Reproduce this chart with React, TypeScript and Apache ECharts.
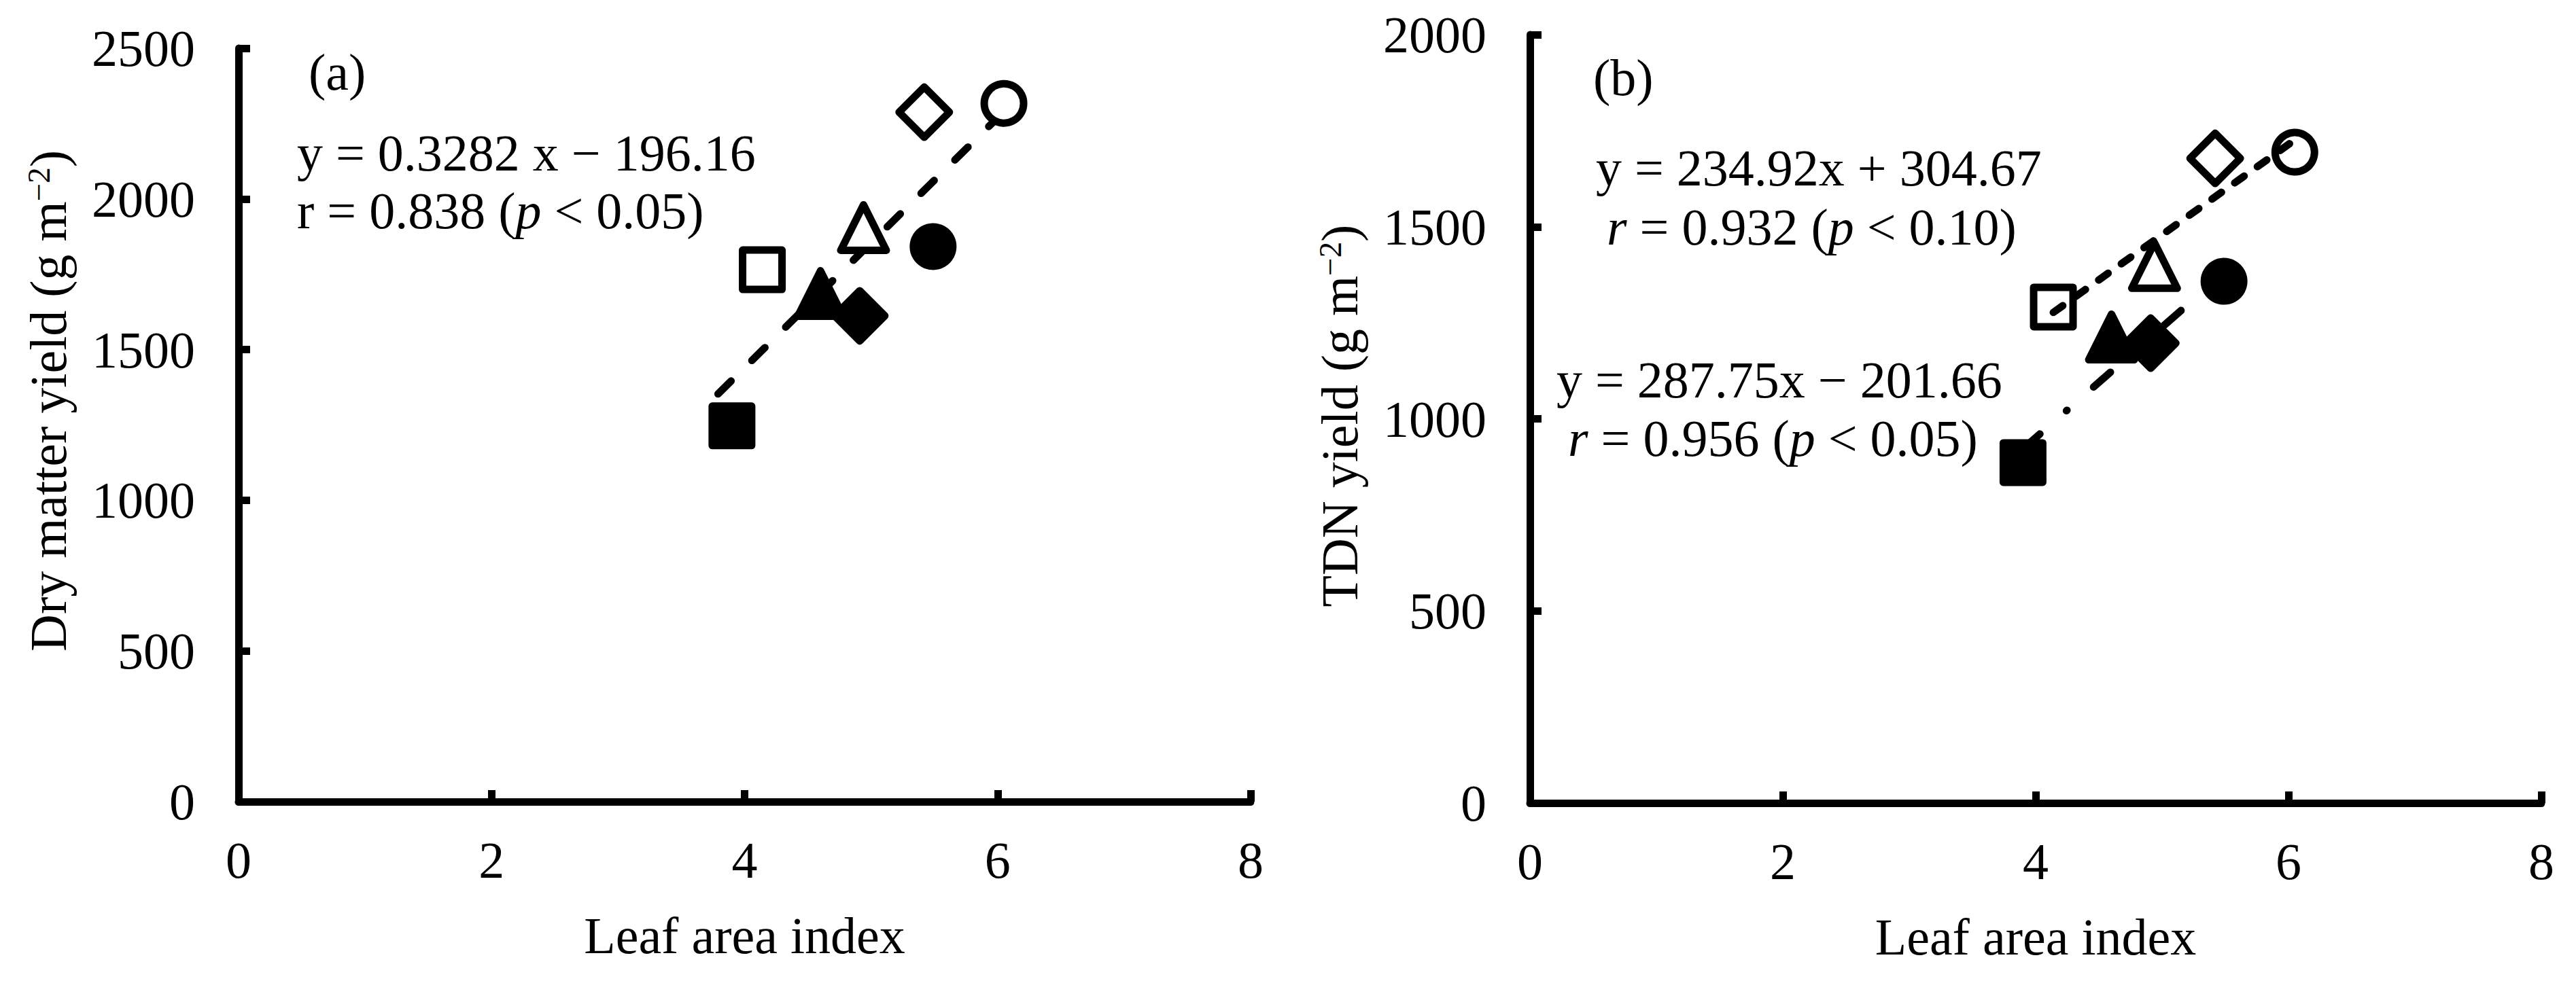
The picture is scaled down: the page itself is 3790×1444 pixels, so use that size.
import React, { useEffect, useRef } from 'react';
import * as echarts from 'echarts';

// ---- data ----
// Leaf area index of the eight treatments (same in both panels)
const LAI = [3.9, 4.14, 4.6, 4.94, 4.91, 5.42, 5.49, 6.05];
const markerShapes = ['rect', 'rect', 'triangle', 'triangle', 'diamond', 'diamond', 'circle', 'circle'];
const markerFilled = [true, false, true, false, true, false, true, false];
// Panel (a): dry matter yield (g m-2)
const dryMatterYield = [1247, 1765, 1686, 1905, 1612, 2288, 1842, 2317];
// Panel (b): TDN yield (g m-2)
const tdnYield = [886, 1291, 1213, 1399, 1197, 1678, 1358, 1694];
// Trend lines (end points)
const dmTrend = [[3.79, 1353], [6.05, 2290]];
const tdnOpenTrend = [[4.14, 1277], [6.05, 1726]];
const tdnFilledTrend = [[3.9, 922], [5.49, 1380]];
// Axis ranges
const xRange = [0, 8, 2];
const dmRange = [0, 2500, 500];
const tdnRange = [0, 2000, 500];

const X_TITLE = 'Leaf area index';
const Y_TITLE_A = ['Dry matter yield (g m', '−2', ')'];
const Y_TITLE_B = ['TDN yield (g m', '−2', ')'];
const LABEL_A = '(a)';
const LABEL_B = '(b)';
const EQ_A1 = 'y = 0.3282 x − 196.16';
const EQ_A2 = ['r = 0.838 (', 'p', ' < 0.05)'];
const EQ_B1 = 'y = 234.92x + 304.67';
const EQ_B2 = ['r', ' = 0.932 (', 'p', ' < 0.10)'];
const EQ_B3 = 'y = 287.75x − 201.66';
const EQ_B4 = ['r', ' = 0.956 (', 'p', ' < 0.05)'];

const FONT = '"Liberation Serif", "Times New Roman", serif';
const FS = 76;
const LW = 11;

const symbolSizeOf: Record<string, number> = { rect: 58, circle: 58, diamond: 74, triangle: 67 };

function makeXAxis(gridIndex: number) {
  return {
    type: 'value',
    gridIndex,
    min: xRange[0],
    max: xRange[1],
    interval: xRange[2],
    name: X_TITLE,
    nameLocation: 'middle',
    nameGap: 159,
    nameTextStyle: { fontSize: FS, fontFamily: FONT, color: '#000' },
    axisLine: { show: true, onZero: false, lineStyle: { color: '#000', width: LW } },
    axisTick: { show: true, inside: true, length: 17, lineStyle: { color: '#000', width: LW } },
    axisLabel: {
      margin: 48,
      fontSize: FS,
      fontFamily: FONT,
      color: '#000',
      showMinLabel: true,
      showMaxLabel: true,
      formatter: (v: number) => String(v),
    },
    splitLine: { show: false },
  };
}

function makeYAxis(gridIndex: number, range: number[]) {
  return {
    type: 'value',
    gridIndex,
    min: range[0],
    max: range[1],
    interval: range[2],
    axisLine: { show: true, onZero: false, lineStyle: { color: '#000', width: LW } },
    axisTick: { show: true, inside: true, length: 17, lineStyle: { color: '#000', width: LW } },
    axisLabel: {
      margin: 64,
      fontSize: FS,
      fontFamily: FONT,
      color: '#000',
      showMinLabel: true,
      showMaxLabel: true,
      formatter: (v: number) => String(v),
    },
    splitLine: { show: false },
  };
}

function scatterData(values: number[]) {
  return LAI.map((x, i) => {
    const shape = markerShapes[i];
    return {
      value: [x, values[i]],
      symbol: shape,
      symbolSize: symbolSizeOf[shape],
      itemStyle: {
        color: markerFilled[i] ? '#000' : '#fff',
        borderColor: '#000',
        borderWidth: LW,
        borderJoin: 'round',
        opacity: 1,
      },
    };
  });
}

function trendSeries(data: number[][], idx: number, dash: number[], z: number) {
  return {
    type: 'line',
    xAxisIndex: idx,
    yAxisIndex: idx,
    data,
    symbol: 'none',
    showSymbol: false,
    silent: true,
    z,
    lineStyle: { color: '#000', width: LW, type: dash, cap: 'round', opacity: 1 },
  };
}

const normal = { fontSize: FS, fontFamily: FONT, fill: '#000' };
const italic = { fontSize: FS, fontFamily: FONT, fontStyle: 'italic', fill: '#000' };
const sup = { fontSize: 47, fontFamily: FONT, fill: '#000', verticalAlign: 'top' };

function plainText(text: string, x: number, y: number) {
  return {
    type: 'text',
    x,
    y,
    silent: true,
    style: { text, ...normal, align: 'left', verticalAlign: 'middle' },
  };
}

function richText(parts: string[], italicIdx: number[], x: number, y: number) {
  const text = parts.map((p, i) => `{${italicIdx.includes(i) ? 'i' : 'n'}|${p}}`).join('');
  return {
    type: 'text',
    x,
    y,
    silent: true,
    style: { text, ...normal, align: 'left', verticalAlign: 'middle', rich: { n: normal, i: italic } },
  };
}

function yTitle(parts: string[], x: number, y: number) {
  return {
    type: 'text',
    x,
    y,
    rotation: Math.PI / 2,
    silent: true,
    style: {
      text: `{a|${parts[0]}}{s|${parts[1]}}{a|${parts[2]}}`,
      ...normal,
      align: 'center',
      verticalAlign: 'middle',
      rich: { a: normal, s: sup },
    },
  };
}

export default function App() {
  const ref = useRef<HTMLDivElement>(null);
  useEffect(() => {
    if (!ref.current) return;
    const chart = echarts.init(ref.current, null, { renderer: 'svg' });
    const option: any = {
      animation: false,
      backgroundColor: '#fff',
      textStyle: { fontFamily: FONT },
      grid: [
        { left: 351, top: 71, width: 1489, height: 1109, containLabel: false, outerBoundsMode: 'none' },
        { left: 2251, top: 51, width: 1488, height: 1131, containLabel: false, outerBoundsMode: 'none' },
      ],
      xAxis: [makeXAxis(0), makeXAxis(1)],
      yAxis: [makeYAxis(0, dmRange), makeYAxis(1, tdnRange)],
      series: [
        trendSeries(dmTrend, 0, [27, 43], 1),
        {
          type: 'scatter',
          xAxisIndex: 0,
          yAxisIndex: 0,
          z: 2,
          silent: true,
          itemStyle: { opacity: 1 },
          data: scatterData(dryMatterYield),
        },
        {
          type: 'scatter',
          xAxisIndex: 1,
          yAxisIndex: 1,
          z: 2,
          silent: true,
          itemStyle: { opacity: 1 },
          data: scatterData(tdnYield),
        },
        trendSeries(tdnOpenTrend, 1, [17, 24], 3),
        trendSeries(tdnFilledTrend, 1, [33, 52, 1, 52], 3),
      ],
      graphic: [
        plainText(LABEL_A, 454, 106),
        plainText(EQ_A1, 437, 225),
        richText(EQ_A2, [1], 437, 310),
        plainText(LABEL_B, 2344, 114),
        plainText(EQ_B1, 2348, 247),
        richText(EQ_B2, [0, 2], 2364, 334),
        plainText(EQ_B3, 2290, 559),
        richText(EQ_B4, [0, 2], 2307, 645),
        yTitle(Y_TITLE_A, 71, 590),
        yTitle(Y_TITLE_B, 1971, 612),
      ],
    };
    chart.setOption(option);
    return () => chart.dispose();
  }, []);
  return (
    <div
      ref={ref}
      style={{ position: 'absolute', left: 0, top: 0, width: 3790, height: 1444, background: '#fff' }}
    />
  );
}
